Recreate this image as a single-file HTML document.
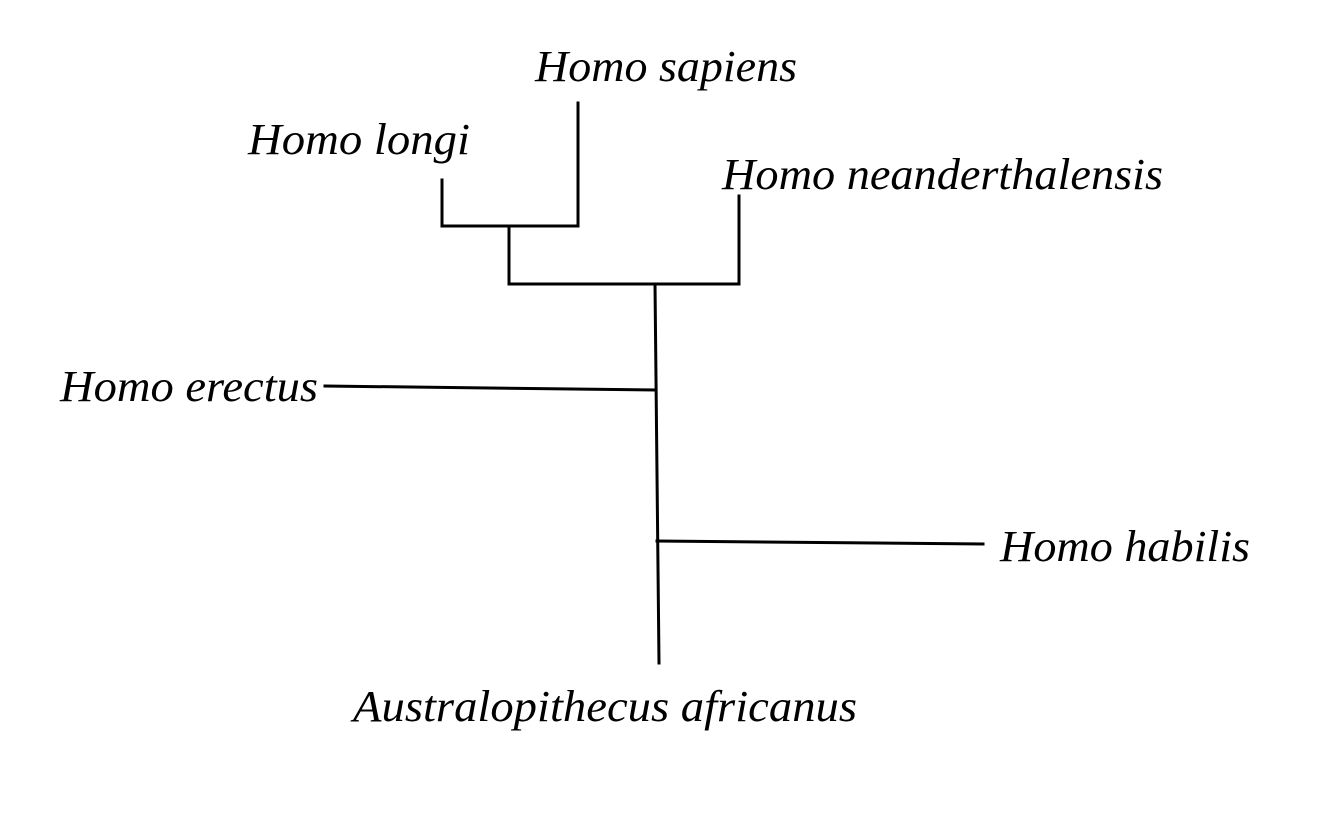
<!DOCTYPE html>
<html><head><meta charset="utf-8"><style>
html,body{margin:0;padding:0;background:#fff;}
svg{display:block;}
text{font-family:"Liberation Serif","Times New Roman",serif;font-style:italic;font-size:44px;fill:#000;}
</style></head><body>
<svg width="1336" height="820" viewBox="0 0 1336 820" xmlns="http://www.w3.org/2000/svg">
<g stroke="#000" stroke-width="3" fill="none" stroke-linecap="square">
<line x1="442" y1="180" x2="442" y2="226"/>
<line x1="578" y1="103" x2="578" y2="226"/>
<line x1="442" y1="226" x2="578" y2="226"/>
<line x1="509" y1="226" x2="509" y2="284"/>
<line x1="739" y1="196" x2="739" y2="284"/>
<line x1="509" y1="284" x2="739" y2="284"/>
<line x1="655" y1="284" x2="659" y2="663"/>
<line x1="325" y1="386" x2="655" y2="390"/>
<line x1="657" y1="541" x2="983" y2="544"/>
</g>
<text x="535" y="81" textLength="262" lengthAdjust="spacingAndGlyphs">Homo sapiens</text>
<text x="248" y="154" textLength="222" lengthAdjust="spacingAndGlyphs">Homo longi</text>
<text x="722" y="189" textLength="441" lengthAdjust="spacingAndGlyphs">Homo neanderthalensis</text>
<text x="60" y="401" textLength="258" lengthAdjust="spacingAndGlyphs">Homo erectus</text>
<text x="1000" y="561" textLength="250" lengthAdjust="spacingAndGlyphs">Homo habilis</text>
<text x="353" y="721" textLength="504" lengthAdjust="spacingAndGlyphs">Australopithecus africanus</text>
</svg>
</body></html>
